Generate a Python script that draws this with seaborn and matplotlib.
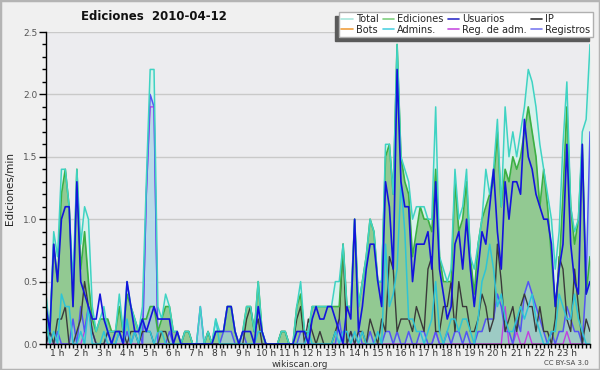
import numpy as np
import pandas as pd
import matplotlib
matplotlib.use("Agg")
import matplotlib.pyplot as plt
from matplotlib.lines import Line2D
from matplotlib.patches import Rectangle
import seaborn as sns

# ediciones/min, una media por bloque de 10 min (00:00 ... 23:30)
minutos = np.arange(0, 1420, 10)

total = [
    0.4, 0.1, 0.9, 0.7, 1.4, 1.4,   # 0 h
    1.1, 0.5, 1.4, 0.8, 1.1, 1.0,
    0.3, 0.1, 0.2, 0.3, 0.1, 0.1,
    0.1, 0.4, 0.1, 0.5, 0.3, 0.2,
    0.1, 0.3, 1.3, 2.2, 2.2, 0.3,
    0.2, 0.4, 0.3, 0.1, 0.1, 0.0,   # 5 h
    0.1, 0.1, 0.0, 0.0, 0.3, 0.0,
    0.1, 0.0, 0.2, 0.1, 0.1, 0.3,
    0.3, 0.1, 0.0, 0.1, 0.3, 0.3,
    0.1, 0.5, 0.1, 0.0, 0.0, 0.0,
    0.0, 0.1, 0.1, 0.0, 0.0, 0.3,   # 10 h
    0.5, 0.1, 0.1, 0.3, 0.3, 0.3,
    0.3, 0.3, 0.3, 0.5, 0.5, 0.8,
    0.3, 0.3, 1.0, 0.3, 0.5, 0.7,
    1.0, 0.9, 0.5, 0.5, 1.6, 1.6,
    1.2, 2.4, 1.5, 1.4, 1.3, 1.0,   # 15 h
    1.1, 1.1, 1.1, 1.0, 1.0, 1.9,
    0.7, 0.6, 0.5, 0.6, 1.4, 1.0,
    1.1, 1.4, 0.7, 0.6, 0.8, 1.0,
    1.4, 1.2, 1.4, 1.8, 1.1, 1.9,
    1.5, 1.7, 1.5, 1.7, 1.9, 2.2,   # 20 h
    2.1, 1.9, 1.6, 1.4, 1.2, 1.0,
    0.6, 0.9, 1.6, 2.1, 1.1, 0.9,
    1.0, 1.7, 1.8, 2.4,
]

ediciones = [
    0.3, 0.1, 0.8, 0.5, 1.2, 1.4,
    1.1, 0.3, 1.4, 0.6, 0.9, 0.5,
    0.2, 0.1, 0.2, 0.2, 0.2, 0.1,
    0.1, 0.3, 0.1, 0.4, 0.3, 0.2,
    0.1, 0.2, 0.2, 0.3, 0.3, 0.1,
    0.2, 0.3, 0.3, 0.1, 0.1, 0.0,
    0.1, 0.1, 0.0, 0.0, 0.0, 0.0,
    0.1, 0.0, 0.1, 0.1, 0.1, 0.3,
    0.3, 0.1, 0.0, 0.1, 0.3, 0.3,
    0.1, 0.5, 0.1, 0.0, 0.0, 0.0,
    0.0, 0.1, 0.1, 0.0, 0.0, 0.3,
    0.4, 0.1, 0.1, 0.3, 0.3, 0.3,
    0.3, 0.3, 0.3, 0.3, 0.3, 0.8,
    0.3, 0.3, 1.0, 0.3, 0.5, 0.7,
    1.0, 0.9, 0.5, 0.5, 1.5, 1.6,
    1.2, 2.4, 1.5, 1.3, 1.2, 0.7,
    0.9, 1.1, 1.0, 1.0, 0.9, 1.4,
    0.7, 0.5, 0.5, 0.5, 1.3, 0.9,
    1.0, 1.3, 0.7, 0.4, 0.8, 1.0,
    1.1, 1.2, 1.3, 1.7, 1.1, 1.4,
    1.3, 1.5, 1.4, 1.5, 1.7, 1.9,
    1.7, 1.5, 1.1, 1.4, 1.1, 0.7,
    0.3, 0.6, 1.2, 1.9, 1.1, 0.8,
    1.0, 1.6, 0.4, 0.7,
]

usuarios = [
    0.3, 0.1, 0.8, 0.5, 1.0, 1.1,
    1.1, 0.3, 1.3, 0.5, 0.4, 0.3,
    0.2, 0.2, 0.4, 0.2, 0.1, 0.0,
    0.1, 0.1, 0.0, 0.5, 0.3, 0.1,
    0.1, 0.2, 0.1, 0.2, 0.3, 0.2,
    0.2, 0.2, 0.2, 0.0, 0.1, 0.0,
    0.0, 0.0, 0.0, 0.0, 0.0, 0.0,
    0.0, 0.0, 0.1, 0.1, 0.1, 0.3,
    0.3, 0.1, 0.0, 0.1, 0.1, 0.1,
    0.0, 0.3, 0.1, 0.0, 0.0, 0.0,
    0.0, 0.0, 0.0, 0.0, 0.0, 0.1,
    0.1, 0.1, 0.0, 0.2, 0.3, 0.2,
    0.2, 0.3, 0.3, 0.2, 0.1, 0.0,
    0.3, 0.2, 1.0, 0.1, 0.3, 0.6,
    0.8, 0.8, 0.5, 0.3, 1.3, 1.1,
    0.6, 2.2, 1.3, 1.1, 1.1, 0.5,
    0.8, 0.8, 0.8, 0.9, 0.6, 1.3,
    0.6, 0.4, 0.2, 0.3, 0.8, 0.9,
    0.6, 1.0, 0.6, 0.3, 0.6, 0.9,
    0.8, 1.1, 1.4, 0.9, 0.6, 1.3,
    1.0, 1.3, 1.3, 1.2, 1.8, 1.5,
    1.4, 1.2, 1.1, 1.0, 1.0, 0.8,
    0.3, 0.6, 0.8, 1.6, 0.8, 0.5,
    0.4, 1.6, 0.4, 0.5,
]

ip = [
    0.0, 0.1, 0.0, 0.2, 0.2, 0.3,
    0.0, 0.0, 0.1, 0.2, 0.5, 0.3,
    0.1, 0.0, 0.0, 0.0, 0.1, 0.1,
    0.1, 0.1, 0.1, 0.0, 0.1, 0.1,
    0.0, 0.1, 0.1, 0.1, 0.0, 0.0,
    0.1, 0.1, 0.0, 0.0, 0.0, 0.0,
    0.1, 0.1, 0.0, 0.0, 0.0, 0.0,
    0.1, 0.0, 0.0, 0.0, 0.0, 0.0,
    0.0, 0.0, 0.0, 0.0, 0.2, 0.3,
    0.1, 0.2, 0.0, 0.0, 0.0, 0.0,
    0.0, 0.1, 0.1, 0.0, 0.0, 0.2,
    0.3, 0.0, 0.2, 0.1, 0.0, 0.1,
    0.0, 0.0, 0.0, 0.1, 0.2, 0.8,
    0.0, 0.1, 0.0, 0.1, 0.1, 0.0,
    0.2, 0.1, 0.0, 0.2, 0.1, 0.7,
    0.6, 0.1, 0.2, 0.2, 0.2, 0.1,
    0.3, 0.2, 0.1, 0.6, 0.7, 0.1,
    0.1, 0.3, 0.3, 0.5, 0.1, 0.5,
    0.3, 0.3, 0.1, 0.1, 0.2, 0.4,
    0.3, 0.1, 0.2, 0.8, 0.5, 0.1,
    0.2, 0.3, 0.1, 0.3, 0.4, 0.3,
    0.3, 0.1, 0.3, 0.1, 0.1, 0.0,
    0.2, 0.7, 0.6, 0.2, 0.1, 0.6,
    0.3, 0.0, 0.2, 0.1,
]

admins = [
    0.2, 0.0, 0.1, 0.0, 0.4, 0.3,
    0.3, 0.0, 0.0, 0.1, 0.0, 0.3,
    0.0, 0.0, 0.0, 0.1, 0.0, 0.0,
    0.0, 0.1, 0.0, 0.2, 0.0, 0.1,
    0.0, 0.2, 0.1, 0.1, 0.0, 0.1,
    0.1, 0.0, 0.0, 0.0, 0.0, 0.0,
    0.0, 0.0, 0.0, 0.0, 0.0, 0.0,
    0.0, 0.0, 0.2, 0.0, 0.0, 0.0,
    0.0, 0.0, 0.0, 0.0, 0.0, 0.0,
    0.0, 0.1, 0.1, 0.0, 0.0, 0.0,
    0.0, 0.0, 0.0, 0.0, 0.0, 0.0,
    0.0, 0.0, 0.1, 0.0, 0.0, 0.0,
    0.0, 0.0, 0.0, 0.1, 0.0, 0.1,
    0.1, 0.0, 0.1, 0.0, 0.1, 0.0,
    0.0, 0.0, 0.1, 0.0, 0.8, 0.3,
    0.4, 0.6, 1.3, 0.9, 0.2, 0.2,
    0.1, 0.1, 0.0, 0.1, 0.2, 0.5,
    0.1, 0.0, 0.1, 0.2, 0.2, 0.1,
    0.2, 0.2, 0.1, 0.0, 0.2, 0.5,
    0.6, 0.8, 0.6, 0.3, 0.4, 0.2,
    0.1, 0.1, 0.2, 0.3, 0.2, 0.3,
    0.4, 0.2, 0.1, 0.0, 0.0, 0.1,
    0.1, 0.4, 0.3, 0.2, 0.2, 0.4,
    0.2, 0.1, 0.0, 0.0,
]

registros = [
    0.0, 0.1, 0.0, 0.1, 0.0, 0.0,
    0.0, 0.2, 0.0, 0.3, 0.1, 0.3,
    0.1, 0.0, 0.0, 0.0, 0.1, 0.0,
    0.0, 0.1, 0.0, 0.1, 0.0, 0.1,
    0.1, 0.0, 1.2, 2.0, 1.9, 0.0,
    0.0, 0.0, 0.1, 0.0, 0.0, 0.0,
    0.0, 0.0, 0.0, 0.0, 0.3, 0.0,
    0.0, 0.0, 0.0, 0.0, 0.1, 0.1,
    0.1, 0.0, 0.0, 0.1, 0.0, 0.0,
    0.0, 0.0, 0.0, 0.0, 0.0, 0.0,
    0.0, 0.0, 0.0, 0.0, 0.0, 0.0,
    0.1, 0.1, 0.0, 0.0, 0.0, 0.0,
    0.0, 0.0, 0.0, 0.0, 0.2, 0.0,
    0.0, 0.1, 0.0, 0.1, 0.0, 0.0,
    0.1, 0.0, 0.0, 0.0, 0.1, 0.1,
    0.0, 0.1, 0.0, 0.0, 0.1, 0.0,
    0.0, 0.1, 0.1, 0.0, 0.0, 0.1,
    0.0, 0.0, 0.1, 0.0, 0.1, 0.1,
    0.0, 0.1, 0.0, 0.0, 0.1, 0.1,
    0.2, 0.2, 0.2, 0.4, 0.3, 0.1,
    0.1, 0.0, 0.2, 0.1, 0.4, 0.5,
    0.4, 0.3, 0.2, 0.1, 0.0, 0.1,
    0.0, 0.1, 0.1, 0.3, 0.2, 0.1,
    0.1, 0.0, 0.5, 1.7,
]

reg_adm = [
    0.0, 0.0, 0.0, 0.0, 0.0, 0.0,
    0.0, 0.0, 0.0, 0.0, 0.1, 0.3,
    0.1, 0.0, 0.0, 0.0, 0.0, 0.0,
    0.0, 0.0, 0.0, 0.0, 0.0, 0.0,
    0.0, 0.0, 1.2, 1.9, 1.9, 0.0,
    0.0, 0.0, 0.0, 0.0, 0.0, 0.0,
    0.0, 0.0, 0.0, 0.0, 0.0, 0.0,
    0.0, 0.0, 0.0, 0.0, 0.0, 0.0,
    0.0, 0.0, 0.0, 0.0, 0.0, 0.0,
    0.0, 0.0, 0.0, 0.0, 0.0, 0.0,
    0.0, 0.0, 0.0, 0.0, 0.0, 0.0,
    0.0, 0.0, 0.0, 0.0, 0.0, 0.0,
    0.0, 0.0, 0.0, 0.0, 0.0, 0.0,
    0.0, 0.0, 0.0, 0.0, 0.0, 0.0,
    0.0, 0.0, 0.0, 0.0, 0.0, 0.0,
    0.0, 0.0, 0.0, 0.0, 0.0, 0.0,
    0.0, 0.0, 0.0, 0.0, 0.0, 0.1,
    0.0, 0.0, 0.0, 0.0, 0.0, 0.0,
    0.0, 0.0, 0.0, 0.0, 0.0, 0.0,
    0.0, 0.0, 0.0, 0.0, 0.0, 0.3,
    0.0, 0.0, 0.1, 0.0, 0.0, 0.1,
    0.0, 0.0, 0.0, 0.0, 0.0, 0.0,
    0.0, 0.0, 0.0, 0.1, 0.0, 0.0,
    0.0, 0.0, 0.0, 0.0,
]

bots = [
    0.0, 0.0, 0.0, 0.0, 0.0, 0.0,
    0.0, 0.0, 0.0, 0.0, 0.0, 0.0,
    0.0, 0.0, 0.0, 0.0, 0.0, 0.0,
    0.0, 0.0, 0.0, 0.0, 0.0, 0.0,
    0.0, 0.0, 0.0, 0.0, 0.0, 0.0,
    0.0, 0.0, 0.0, 0.0, 0.0, 0.0,
    0.0, 0.0, 0.0, 0.0, 0.0, 0.0,
    0.0, 0.0, 0.0, 0.0, 0.0, 0.0,
    0.0, 0.0, 0.0, 0.0, 0.0, 0.0,
    0.0, 0.0, 0.0, 0.0, 0.0, 0.0,
    0.0, 0.0, 0.0, 0.0, 0.0, 0.0,
    0.0, 0.0, 0.0, 0.0, 0.0, 0.0,
    0.0, 0.0, 0.0, 0.0, 0.0, 0.0,
    0.0, 0.0, 0.0, 0.0, 0.0, 0.0,
    0.0, 0.0, 0.0, 0.0, 0.0, 0.0,
    0.0, 0.0, 0.0, 0.0, 0.0, 0.0,
    0.0, 0.0, 0.0, 0.0, 0.0, 0.0,
    0.0, 0.0, 0.0, 0.0, 0.0, 0.0,
    0.0, 0.0, 0.0, 0.0, 0.0, 0.0,
    0.0, 0.0, 0.0, 0.0, 0.0, 0.0,
    0.0, 0.0, 0.0, 0.0, 0.0, 0.0,
    0.0, 0.0, 0.0, 0.0, 0.0, 0.0,
    0.0, 0.0, 0.0, 0.0, 0.0, 0.0,
    0.0, 0.0, 0.0, 0.0,
]

horas_etiq = [f"{h} h" for h in range(1, 24)]

df = pd.DataFrame({
    "hora": minutos / 60,
    "Total": total, "Ediciones": ediciones, "Usuarios": usuarios, "IP": ip,
    "Bots": bots, "Admins.": admins, "Reg. de adm.": reg_adm, "Registros": registros,
})

sns.set_theme(style="white")
plt.rcParams["font.family"] = ["DejaVu Sans"]

fig = plt.figure(figsize=(6, 3.7), dpi=100, facecolor="#f0f0f0")
fig.patches.append(Rectangle((0, 0), 1, 1, transform=fig.transFigure, fill=False,
                             edgecolor="#b4b4b4", lw=2.5))
ax = fig.add_axes([46 / 600, 26 / 370, 544 / 600, 312 / 370])
ax.set_facecolor("#ececef")

for g in [0.5, 1.0, 1.5, 2.0, 2.5]:
    ax.axhline(g, color="#c9c9c9", lw=1, zorder=0)

# rellenos
ax.fill_between(df["hora"], df["Total"], color="#d8f1ec", lw=0, zorder=1)
ax.fill_between(df["hora"], df["Ediciones"], color="#92c992", lw=0, zorder=2)
ax.fill_between(df["hora"], df["Registros"], color="#a6cde6", alpha=0.6, lw=0, zorder=3)

lineas = [
    ("Bots", "#f0a040", 1.0, 4),
    ("Reg. de adm.", "#c040e0", 1.0, 4),
    ("Registros", "#5454f4", 1.1, 5),
    ("IP", "#3a3a3a", 1.0, 6),
    ("Admins.", "#2ec4d6", 1.1, 6),
    ("Ediciones", "#3cb043", 1.2, 7),
    ("Total", "#3fd3c3", 1.1, 7),
    ("Usuarios", "#1414dc", 1.2, 8),
]
for col, c, lw, z in lineas:
    sns.lineplot(data=df, x="hora", y=col, color=c, lw=lw, ax=ax, zorder=z)

ax.set_xlim(0, 23.5)
ax.set_ylim(0, 2.5)
ax.set_xlabel("")
ax.set_ylabel("")

ax.set_yticks([0, 0.5, 1.0, 1.5, 2.0, 2.5])
ax.set_yticklabels(["0.0", "0.5", "1.0", "1.5", "2.0", "2.5"])
ax.set_yticks(np.arange(0, 2.51, 0.1), minor=True)
ax.set_xticks(np.arange(1, 24) - 0.5)
ax.set_xticklabels(horas_etiq)
ax.set_xticks(np.arange(0, 23.51, 1 / 6), minor=True)
ax.tick_params(axis="y", which="major", left=True, length=5, width=1, color="black",
               labelsize=6.5, labelcolor="#555555", pad=1)
ax.tick_params(axis="y", which="minor", left=True, length=3, width=1, color="black")
ax.tick_params(axis="x", which="both", bottom=True, length=3, width=1, color="black",
               labelsize=6.5, labelcolor="#333333", pad=0.5)

for s in ["top", "right"]:
    ax.spines[s].set_visible(False)
for s in ["left", "bottom"]:
    ax.spines[s].set_color("black")
    ax.spines[s].set_linewidth(1)
    ax.spines[s].set_zorder(10)

fig.text(0.257, 0.955, "Ediciones  2010-04-12", ha="center", va="center",
         fontsize=8.5, fontweight="bold", color="#111111")
fig.text(0.016, 0.49, "Ediciones/min", rotation=90, ha="center", va="center",
         fontsize=7.5, color="#222222")
fig.text(0.5, 0.016, "wikiscan.org", ha="center", va="center", fontsize=6.5,
         color="#333333")
fig.text(0.982, 0.018, "CC BY-SA 3.0", ha="right", va="center", fontsize=5,
         color="#444444")

# leyenda (se rellena por columnas)
ley = [("Total", "#a8e6dc"), ("Bots", "#f0a040"), ("Ediciones", "#7fd07f"),
       ("Admins.", "#50d2e2"), ("Usuarios", "#3030c8"), ("Reg. de adm.", "#c850e0"),
       ("IP", "#333333"), ("Registros", "#7c7cf0")]
handles = [Line2D([], [], color=c, lw=1.2) for _, c in ley]
fig.legend(handles, [n for n, _ in ley], ncol=4, loc="upper right",
           bbox_to_anchor=(0.988, 0.968), fontsize=7, frameon=True, fancybox=False,
           shadow={"ox": -3, "oy": -3, "facecolor": "#5a5a5a", "edgecolor": "#5a5a5a",
                   "alpha": 1},
           edgecolor="#b0b0b0", facecolor="white", framealpha=1,
           handlelength=1.2, handletextpad=0.3, columnspacing=0.4,
           labelspacing=0.05, borderpad=0.25, borderaxespad=0)

fig.savefig("out.png", dpi=100, facecolor=fig.get_facecolor())
